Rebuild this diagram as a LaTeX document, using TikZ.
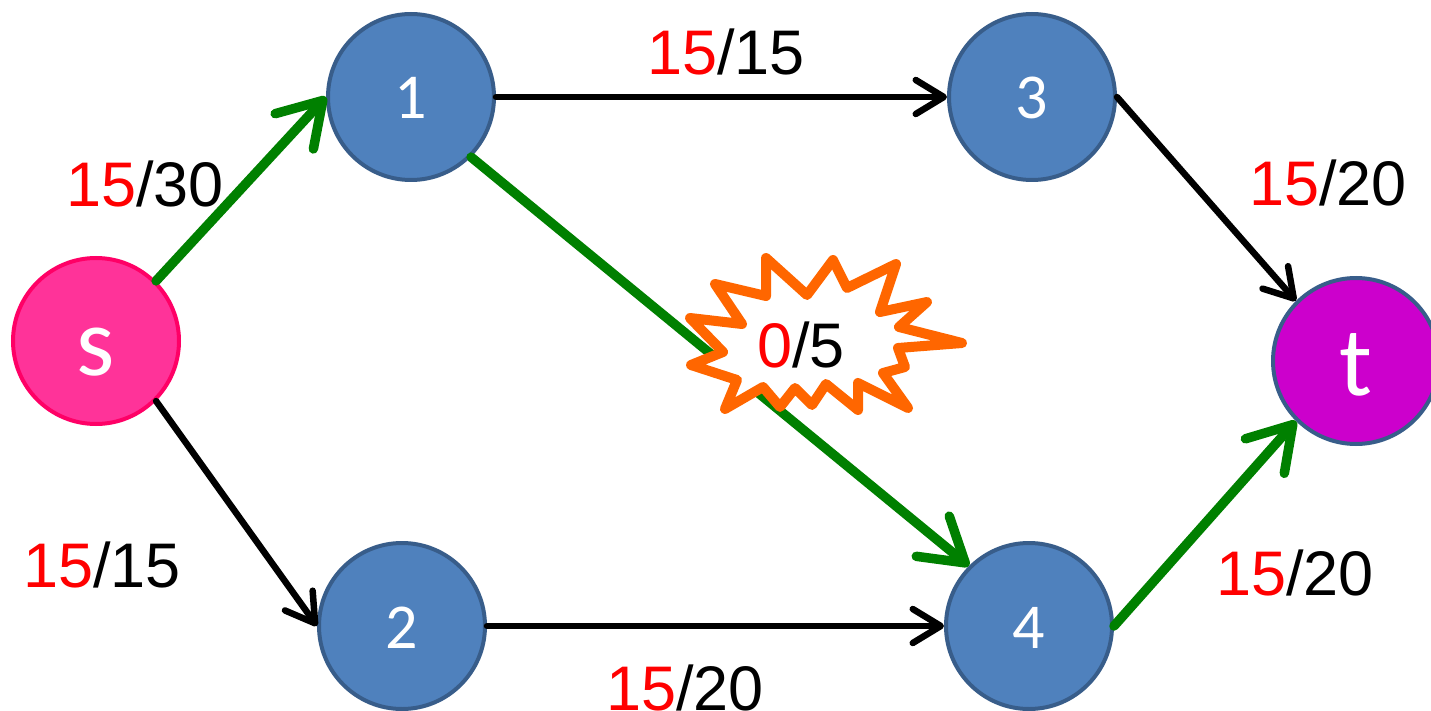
\documentclass[tikz,border=0pt]{standalone}
\usepackage{fontspec}
\setmainfont{Liberation Sans}
\newfontfamily\nodefont{Carlito}
\usetikzlibrary{arrows.meta}
\definecolor{nodeblue}{HTML}{4F81BD}
\definecolor{nodeborder}{HTML}{385D8A}
\definecolor{spink}{HTML}{FF3399}
\definecolor{sborder}{HTML}{FF0066}
\definecolor{tmag}{HTML}{CC00CC}
\definecolor{flowgreen}{HTML}{008000}
\definecolor{burstorange}{HTML}{FF6600}
\begin{document}
\begin{tikzpicture}[x=1pt,y=-1pt,
  vtx/.style={circle,draw=nodeborder,line width=4pt,fill=nodeblue,minimum size=166pt,inner sep=0pt,
    text=white,font=\nodefont\fontsize{64}{64}\selectfont,text height=44pt,text depth=0pt},
  letter/.style={font=\nodefont\fontsize{98}{98}\selectfont,text height=68pt,text depth=0pt},
  flow/.style={line width=9.5pt,draw=flowgreen,line cap=round,-{Straight Barb[length=42pt,width=52pt,round]}},
  plain/.style={line width=6.5pt,draw=black,line cap=round,-{Straight Barb[length=28pt,width=34pt,round]}},
  lab/.style={anchor=base,font=\fontsize{63}{63}\selectfont,inner sep=0pt},
  burst/.style={draw=burstorange,fill=white,line width=10pt,line join=round}
]
\useasboundingbox (0,0) rectangle (1431,711);

\node[vtx,letter,fill=spink,draw=sborder] (s) at (96,341) {s};
\node[vtx] (n1) at (411,97) {1};
\node[vtx] (n3) at (1032,97) {3};
\node[vtx] (n2) at (402,626) {2};
\node[vtx] (n4) at (1029,626) {4};
\node[vtx,letter,fill=tmag] (t) at (1356,361) {t};

\draw[flow] (s.45) -- (n1.west);
\draw[plain] (s.-45) -- (n2.west);
\draw[plain] (n1.east) -- (n3.west);
\draw[flow] (n1.-45) -- (n4.135);
\draw[plain] (n2.east) -- (n4.west);
\draw[plain] (n3.east) -- (t.135);
\draw[flow] (n4.east) -- (t.-135);

\draw[burst] (690,318) -- (742,324) -- (715,284) -- (766,296) -- (766,258) -- (807,295)
  -- (833,260) -- (847,288) -- (896,264) -- (880,312) -- (927,302) -- (899,327)
  -- (962,343) -- (898,348) -- (905,367) -- (883,373) -- (908,408) -- (858,383)
  -- (858,410) -- (826,384) -- (812,405) -- (795,388) -- (780,407) -- (763,387)
  -- (725,409) -- (737,380) -- (691,365) -- (723,352) -- cycle;

\node[lab] (l1) at (145,207) {\textcolor{red}{15}/30};
\node[lab] (l2) at (726,75) {\textcolor{red}{15}/15};
\node[lab] (l3) at (1328,206) {\textcolor{red}{15}/20};
\node[lab] (l4) at (801,367) {\textcolor{red}{0}/5};
\node[lab] (l5) at (102,587) {\textcolor{red}{15}/15};
\node[lab] (l6) at (1295,595) {\textcolor{red}{15}/20};
\node[lab] (l7) at (685,710) {\textcolor{red}{15}/20};
\end{tikzpicture}
\end{document}
